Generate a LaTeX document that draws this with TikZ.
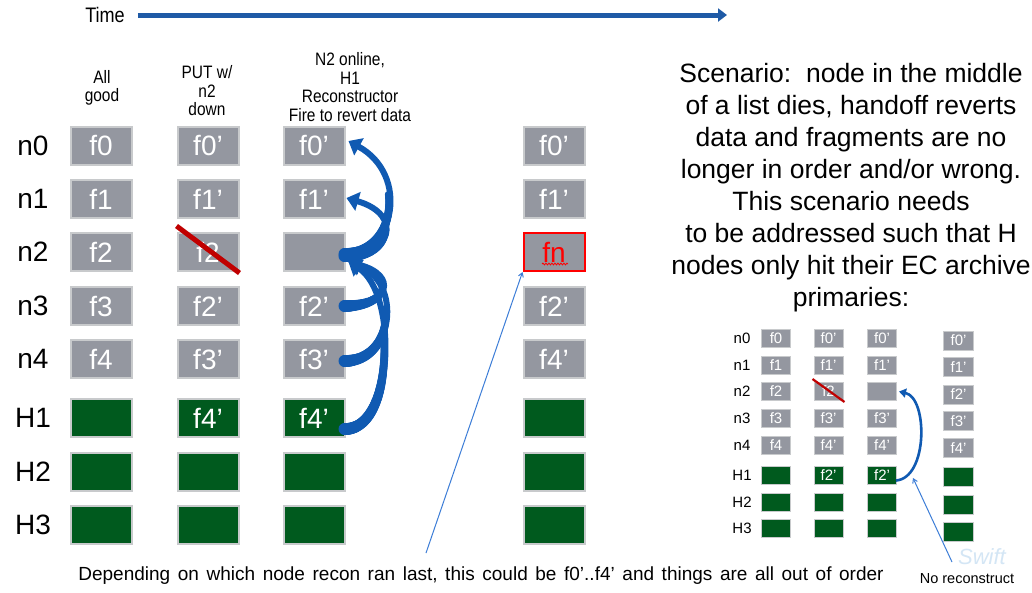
\documentclass[tikz,border=0pt]{standalone}
\usepackage{fontspec}
\setmainfont{Liberation Sans}
\newfontfamily\nar[FakeStretch=0.86]{Liberation Sans}
\usetikzlibrary{arrows.meta,calc,decorations.pathmorphing,decorations.markings}
\definecolor{boxgray}{RGB}{148,151,160}
\definecolor{boxedge}{RGB}{200,202,204}
\definecolor{hgreen}{RGB}{0,90,30}
\definecolor{arrowblue}{RGB}{16,90,178}
\definecolor{timeblue}{RGB}{31,90,166}
\definecolor{thinblue}{RGB}{60,125,215}
\definecolor{strikered}{RGB}{192,0,0}
\definecolor{wmblue}{RGB}{212,230,245}
\begin{document}
\begin{tikzpicture}[x=1pt,y=-1pt,
 big/.style={draw=boxedge,line width=2pt,minimum width=61pt,minimum height=38pt,inner sep=0pt,text=white,font=\fontsize{28}{30}\selectfont},
 gbig/.style={big,fill=boxgray},
 hbig/.style={big,fill=hgreen},
 sm/.style={draw=boxedge,line width=1pt,minimum width=29pt,minimum height=18pt,inner sep=0pt,text=white,font=\fontsize{15}{16}\selectfont},
 gsm/.style={sm,fill=boxgray},
 hsm/.style={sm,fill=hgreen},
 rowlab/.style={font=\fontsize{28}{30}\selectfont,inner sep=0pt},
 srowlab/.style={font=\fontsize{15}{16}\selectfont,inner sep=0pt},
 hdr/.style={font=\nar\fontsize{18}{18.5}\selectfont,align=center,inner sep=0pt},
 taper/.style={preaction={decorate,decoration={markings,
   mark=between positions 0 and 0.55 step 0.8pt with {%
     \pgfmathsetmacro\rr{6-2.8*\pgfkeysvalueof{/pgf/decoration/mark info/distance from start}/(0.55*\pgfdecoratedpathlength)}%
     \fill[arrowblue] (0,0) circle (\rr pt);}}}},
 bendarrow/.style={taper,line width=6pt,draw=arrowblue,-{Triangle[width=19pt,length=12pt]}},
 sbendarrow/.style={line width=2.6pt,draw=arrowblue,-{Triangle[width=9pt,length=7pt]}},
 thinarrow/.style={line width=1pt,draw=thinblue,-{Straight Barb[width=5pt,length=4pt]}},
 strike/.style={line width=5pt,draw=strikered},
 sstrike/.style={line width=2.2pt,draw=strikered}
]
\useasboundingbox (0,0) rectangle (1032,592);
\fill[white] (0,0) rectangle (1032,592);

% time axis
\node[font=\nar\fontsize{21}{24}\selectfont,inner sep=0pt] (time) at (105,15) {Time};
\coordinate (tend) at (727,15);
\draw[line width=5pt,timeblue,-{Triangle[width=13pt,length=9pt]}] ([xshift=13pt]time.east) -- (tend);

% column headers
\node[hdr] (h1) at (102,88) {All\\good};
\node[hdr] (h2) at (207,91) {PUT w/\\n2\\down};
\node[hdr] (h3) at (350,87) {N2 online,\\H1\\Reconstructor\\Fire to revert data};

% row labels (big)
\foreach \n/\y in {n0/146,n1/199,n2/252,n3/306,n4/359,H1/418,H2/472,H3/525}
  \node[rowlab] (lab\n) at (33,\y) {\n};

% column 1
\foreach \n/\y/\t in {n0/146/f0,n1/199/f1,n2/252/f2,n3/306/f3,n4/359/f4}
  \node[gbig] (a\n) at (101,\y) {\t};
\foreach \n/\y in {H1/418,H2/472,H3/525}
  \node[hbig] (a\n) at (101,\y) {};

% column 2
\node[gbig] (bn0) at (208,146) {f0’};
\node[gbig] (bn1) at (208,199) {f1’};
\node[gbig] (bn2) at (208,252) {f2};
\node[gbig] (bn3) at (208,306) {f2’};
\node[gbig] (bn4) at (208,359) {f3’};
\node[hbig] (bH1) at (208,418) {f4’};
\node[hbig] (bH2) at (208,472) {};
\node[hbig] (bH3) at (208,525) {};
\draw[strike] ($(bn2.north west)+(0,-6)$) -- ($(bn2.south east)+(0,1)$);

% column 3
\node[gbig] (cn0) at (314,146) {f0’};
\node[gbig] (cn1) at (314,199) {f1’};
\node[gbig] (cn2) at (314,252) {};
\node[gbig] (cn3) at (314,306) {f2’};
\node[gbig] (cn4) at (314,359) {f3’};
\node[hbig] (cH1) at (314,418) {f4’};
\node[hbig] (cH2) at (314,472) {};
\node[hbig] (cH3) at (314,525) {};

% column 4
\node[gbig] (dn0) at (554,146) {f0’};
\node[gbig] (dn1) at (554,199) {f1’};
\node[big,fill=boxgray,draw=red,text=red] (dn2) at (554,252) {fn};
\draw[red,line width=0.8pt,decorate,decoration={snake,amplitude=0.9pt,segment length=3pt}] ($(dn2.center)+(-12,12)$) -- ($(dn2.center)+(14,12)$);
\node[gbig] (dn3) at (554,306) {f2’};
\node[gbig] (dn4) at (554,359) {f4’};
\node[hbig] (dH1) at (554,418) {};
\node[hbig] (dH2) at (554,472) {};
\node[hbig] (dH3) at (554,525) {};

% reconstructor arrows
\draw[bendarrow] ($(cn2.east)+(-1,2)$) .. controls (395,254) and (410,175) .. ($(cn0.east)+(3,-5)$);
\draw[bendarrow] ($(cn2.east)+(-1,4)$) .. controls (390,258) and (405,215) .. ($(cn1.east)+(1,-1)$);
\draw[bendarrow] ($(cn3.east)+(-1,0)$) .. controls (390,306) and (398,275) .. ($(cn2.east)+(3,10)$);
\draw[bendarrow] ($(cn4.east)+(-1,2)$) .. controls (395,361) and (402,282) .. ($(cn2.east)+(3,10)$);
\draw[bendarrow] ($(cH1.east)+(-1,11)$) .. controls (395,430) and (398,292) .. ($(cn2.east)+(3,10)$);

% scenario text
\node[font=\fontsize{26.5}{32}\selectfont,align=center,inner sep=0pt] (scen) at (851,188)
 {Scenario:\ \ node in the middle\\of a list dies, handoff reverts\\data and fragments are no\\longer in order and/or wrong.\\This scenario needs\\to be addressed such that H\\nodes only hit their EC archive\\primaries:};

% small diagram
\foreach \n/\y in {n0/338.5,n1/365.5,n2/391.5,n3/418.5,n4/445.5,H1/475.5,H2/502,H3/528.5}
  \node[srowlab] (slab\n) at (742,\y) {\n};
\foreach \n/\y/\t in {n0/338.5/f0,n1/365.5/f1,n2/391.5/f2,n3/418.5/f3,n4/445.5/f4}
  \node[gsm] (sa\n) at (776,\y) {\t};
\foreach \n/\y in {H1/475.5,H2/502,H3/528.5}
  \node[hsm] (sa\n) at (776,\y) {};

\node[gsm] (sbn0) at (828.5,338.5) {f0’};
\node[gsm] (sbn1) at (828.5,365.5) {f1’};
\node[gsm] (sbn2) at (828.5,391.5) {f2};
\node[gsm] (sbn3) at (828.5,418.5) {f3’};
\node[gsm] (sbn4) at (828.5,445.5) {f4’};
\node[hsm] (sbH1) at (828.5,475.5) {f2’};
\node[hsm] (sbH2) at (828.5,502) {};
\node[hsm] (sbH3) at (828.5,528.5) {};
\draw[sstrike] ($(sbn2.north west)+(-1,-3)$) -- ($(sbn2.south east)+(1,1)$);

\node[gsm] (scn0) at (882,338.5) {f0’};
\node[gsm] (scn1) at (882,365.5) {f1’};
\node[gsm] (scn2) at (882,391.5) {};
\node[gsm] (scn3) at (882,418.5) {f3’};
\node[gsm] (scn4) at (882,445.5) {f4’};
\node[hsm] (scH1) at (882,475.5) {f2’};
\node[hsm] (scH2) at (882,502) {};
\node[hsm] (scH3) at (882,528.5) {};

\node[gsm,minimum width=30pt,minimum height=19pt] (sdn0) at (958.5,340.5) {f0’};
\node[gsm,minimum width=30pt,minimum height=19pt] (sdn1) at (958.5,367) {f1’};
\node[gsm,minimum width=30pt,minimum height=19pt] (sdn2) at (958.5,394.5) {f2’};
\node[gsm,minimum width=30pt,minimum height=19pt] (sdn3) at (958.5,421) {f3’};
\node[gsm,minimum width=30pt,minimum height=19pt] (sdn4) at (958.5,448) {f4’};
\node[hsm,minimum width=30pt,minimum height=19pt] (sdH1) at (958.5,477) {};
\node[hsm,minimum width=30pt,minimum height=19pt] (sdH2) at (958.5,505) {};
\node[hsm,minimum width=30pt,minimum height=19pt] (sdH3) at (958.5,532) {};

\draw[sbendarrow] ($(scH1.east)+(-1,5)$) .. controls (928,478) and (928,398) .. ($(scn2.east)+(2,0)$);

% watermark
\node[text=wmblue,font=\itshape\fontsize{22}{24}\selectfont,inner sep=0pt] (wm) at (982,557) {Swift};

% notes
\node[font=\fontsize{19}{22}\selectfont,inner sep=0pt] (note) at (481,576) {\spaceskip=7.6pt Depending on which node recon ran last, this could be f0’..f4’ and things are all out of order};
\node[font=\fontsize{14.5}{16}\selectfont,inner sep=0pt] (norec) at (967,579) {No reconstruct};
\coordinate (t1) at (426,553);
\draw[thinarrow] (t1) -- (dn2.south west);
\coordinate (t2) at (952,562);
\coordinate (t2h) at (913,478);
\draw[thinarrow] (t2) -- (t2h);
\end{tikzpicture}
\end{document}
